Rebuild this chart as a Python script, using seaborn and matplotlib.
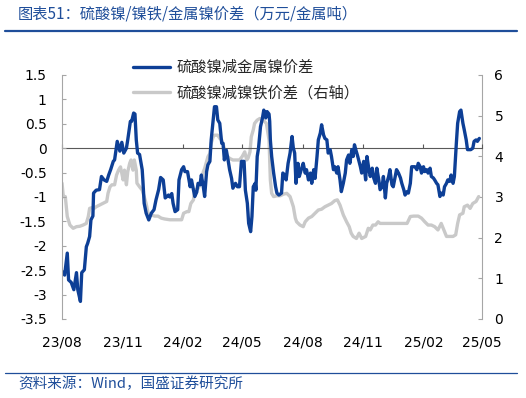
import matplotlib
matplotlib.use('Agg')
import pandas as pd
import matplotlib.pyplot as plt
import matplotlib.dates as mdates
from matplotlib.lines import Line2D
import seaborn as sns

# 硫酸镍减金属镍价差 (left axis)
blue_dates = """
2023-08-01 2023-08-05 2023-08-09 2023-08-11 2023-08-15 2023-08-19 2023-08-23 2023-08-25
2023-08-29 2023-08-31 2023-09-04 2023-09-07 2023-09-09 2023-09-12 2023-09-14 2023-09-17
2023-09-18 2023-09-22 2023-09-27 2023-09-30 2023-10-04 2023-10-08 2023-10-11 2023-10-14
2023-10-18 2023-10-20 2023-10-24 2023-10-28 2023-10-31 2023-11-03 2023-11-07 2023-11-09
2023-11-13 2023-11-15 2023-11-18 2023-11-20 2023-11-22 2023-11-24 2023-11-27 2023-12-01
2023-12-02 2023-12-04 2023-12-07 2023-12-11 2023-12-15 2023-12-19 2023-12-22 2023-12-26
2023-12-29 2024-01-02 2024-01-05 2024-01-10 2024-01-12 2024-01-15 2024-01-17 2024-01-20
2024-01-24 2024-01-26 2024-01-30 2024-02-02 2024-02-04 2024-02-08 2024-02-12 2024-02-14
2024-02-17 2024-02-19 2024-02-22 2024-02-24 2024-02-27 2024-02-29 2024-03-03 2024-03-05
2024-03-08 2024-03-10 2024-03-13 2024-03-15 2024-03-18 2024-03-20 2024-03-23 2024-03-25
2024-03-28 2024-03-31 2024-04-02 2024-04-04 2024-04-07 2024-04-10 2024-04-12 2024-04-15
2024-04-17 2024-04-21 2024-04-24 2024-04-27 2024-04-30 2024-05-04 2024-05-06 2024-05-09
2024-05-11 2024-05-14 2024-05-16 2024-05-18 2024-05-21 2024-05-22 2024-05-24 2024-05-26
2024-05-29 2024-06-01 2024-06-03 2024-06-06 2024-06-08 2024-06-11 2024-06-12 2024-06-13
2024-06-15 2024-06-18 2024-06-21 2024-06-23 2024-06-26 2024-06-30 2024-07-02 2024-07-05
2024-07-07 2024-07-10 2024-07-13 2024-07-16 2024-07-18 2024-07-20 2024-07-22 2024-07-25
2024-07-27 2024-07-30 2024-08-02 2024-08-05 2024-08-07 2024-08-10 2024-08-13 2024-08-15
2024-08-18 2024-08-20 2024-08-23 2024-08-25 2024-08-28 2024-08-30 2024-09-02 2024-09-04
2024-09-07 2024-09-09 2024-09-12 2024-09-14 2024-09-17 2024-09-19 2024-09-22 2024-09-24
2024-09-27 2024-09-29 2024-10-02 2024-10-05 2024-10-07 2024-10-10 2024-10-12 2024-10-15
2024-10-17 2024-10-19 2024-10-21 2024-10-24 2024-10-28 2024-10-30 2024-11-02 2024-11-05
2024-11-07 2024-11-10 2024-11-12 2024-11-15 2024-11-17 2024-11-20 2024-11-22 2024-11-25
2024-11-27 2024-11-30 2024-12-02 2024-12-05 2024-12-07 2024-12-10 2024-12-12 2024-12-15
2024-12-17 2024-12-20 2024-12-22 2024-12-25 2024-12-28 2024-12-30 2025-01-02 2025-01-04
2025-01-07 2025-01-09 2025-01-12 2025-01-14 2025-01-17 2025-01-19 2025-01-22 2025-01-24
2025-01-27 2025-01-29 2025-02-01 2025-02-03 2025-02-06 2025-02-08 2025-02-11 2025-02-13
2025-02-16 2025-02-18 2025-02-21 2025-02-23 2025-02-26 2025-02-28 2025-03-03 2025-03-05
2025-03-08 2025-03-10 2025-03-13 2025-03-15 2025-03-18 2025-03-20 2025-03-23 2025-03-25
2025-03-28 2025-03-30 2025-04-02 2025-04-04 2025-04-07 2025-04-09 2025-04-12 2025-04-14
2025-04-17 2025-04-19 2025-04-22 2025-04-24 2025-04-27
""".split()
blue_vals = [
    -2.53, -2.60, -2.15, -2.70, -2.75, -2.90, -2.55, -2.90,
    -3.14, -2.55, -2.49, -2.02, -1.95, -1.81, -1.47, -1.39,
    -0.92, -0.86, -0.85, -0.58, -0.65, -0.68, -0.55, -0.44,
    -0.27, -0.24, 0.14, -0.06, 0.12, -0.10, 0.00, 0.17,
    0.55, 0.55, 0.72, 0.70, 0.17, -0.10, -0.13, -0.44,
    -0.65, -1.13, -1.33, -1.47, -1.33, -1.26, -1.06, -0.85,
    -0.60, -0.65, -1.02, -0.96, -1.00, -0.93, -1.13, -1.30,
    -1.26, -0.65, -0.44, -0.38, -0.48, -0.48, -0.79, -0.65,
    -0.85, -0.99, -0.90, -0.72, -0.75, -0.55, -0.79, -0.99,
    -0.48, -0.34, -0.27, 0.17, 0.58, 0.85, 0.85, 0.58,
    0.51, 0.10, 0.10, -0.24, -0.04, -0.27, -0.44, -0.62,
    -0.82, -0.72, -0.79, -0.79, -0.27, -0.27, -0.86, -1.13,
    -1.54, -1.71, -1.40, -0.79, -0.72, -0.86, -0.17, 0.00,
    0.44, 0.62, 0.78, 0.62, 0.75, 0.70, 0.55, 0.17,
    -0.17, -0.51, -0.79, -0.92, -0.96, -0.92, -0.51, -0.55,
    -0.65, -0.31, -0.10, 0.24, 0.00, -0.10, -0.72, -0.31,
    -0.58, -0.44, -0.31, -0.51, -0.44, -0.65, -0.51, -0.72,
    -0.44, -0.62, -0.17, 0.17, 0.31, 0.48, 0.27, 0.20,
    0.17, -0.10, -0.03, -0.17, -0.44, -0.38, -0.51, -0.38,
    -0.65, -0.89, -0.72, -0.51, -0.24, -0.14, -0.31, -0.03,
    -0.17, 0.07, -0.03, -0.17, -0.38, -0.51, -0.27, -0.65,
    -0.17, -0.44, -0.58, -0.41, -0.60, -0.72, -0.41, -0.65,
    -0.85, -0.79, -0.58, -1.02, -0.72, -0.58, -0.44, -0.75,
    -0.79, -0.58, -0.44, -0.51, -0.61, -0.72, -0.85, -0.96,
    -0.89, -0.92, -0.72, -0.38, -0.38, -0.38, -0.44, -0.31,
    -0.38, -0.51, -0.38, -0.48, -0.44, -0.51, -0.41, -0.58,
    -0.61, -0.65, -0.72, -0.75, -0.99, -0.92, -0.96, -0.79,
    -0.72, -0.65, -0.68, -0.55, -0.72, -0.58, 0.10, 0.51,
    0.75, 0.78, 0.51, 0.38, 0.17, -0.03, -0.03, -0.03,
    0.00, 0.14, 0.17, 0.14, 0.20,
]

# 硫酸镍减镍铁价差 (right axis)
grey_dates = """
2023-08-01 2023-08-03 2023-08-06 2023-08-09 2023-08-13 2023-08-18 2023-08-23 2023-08-28
2023-09-02 2023-09-07 2023-09-10 2023-09-12 2023-09-16 2023-09-19 2023-09-22 2023-09-27
2023-10-02 2023-10-08 2023-10-10 2023-10-13 2023-10-16 2023-10-20 2023-10-23 2023-10-26
2023-10-29 2023-11-02 2023-11-04 2023-11-07 2023-11-09 2023-11-12 2023-11-14 2023-11-17
2023-11-19 2023-11-22 2023-11-23 2023-11-27 2023-12-01 2023-12-04 2023-12-07 2023-12-10
2023-12-15 2023-12-20 2023-12-25 2023-12-30 2024-01-04 2024-01-12 2024-01-20 2024-01-30
2024-02-02 2024-02-07 2024-02-10 2024-02-13 2024-02-17 2024-02-19 2024-02-24 2024-02-27
2024-02-29 2024-03-03 2024-03-05 2024-03-08 2024-03-10 2024-03-13 2024-03-15 2024-03-18
2024-03-20 2024-03-25 2024-03-28 2024-03-31 2024-04-04 2024-04-07 2024-04-12 2024-04-17
2024-04-22 2024-04-27 2024-05-01 2024-05-05 2024-05-08 2024-05-10 2024-05-13 2024-05-15
2024-05-18 2024-05-20 2024-05-24 2024-05-28 2024-06-02 2024-06-07 2024-06-11 2024-06-12
2024-06-13 2024-06-15 2024-06-18 2024-06-23 2024-06-28 2024-07-03 2024-07-08 2024-07-13
2024-07-18 2024-07-21 2024-07-23 2024-07-28 2024-08-02 2024-08-05 2024-08-10 2024-08-15
2024-08-20 2024-08-25 2024-08-30 2024-09-04 2024-09-09 2024-09-14 2024-09-19 2024-09-23
2024-09-27 2024-10-02 2024-10-07 2024-10-11 2024-10-14 2024-10-17 2024-10-22 2024-10-26
2024-10-30 2024-11-05 2024-11-09 2024-11-12 2024-11-16 2024-11-20 2024-11-24 2024-11-27
2024-12-07 2024-12-17 2024-12-28 2025-01-07 2025-01-12 2025-01-17 2025-01-24 2025-01-29
2025-02-03 2025-02-08 2025-02-13 2025-02-18 2025-02-23 2025-02-28 2025-03-04 2025-03-08
2025-03-13 2025-03-18 2025-03-22 2025-03-25 2025-03-28 2025-04-02 2025-04-04 2025-04-09
2025-04-13 2025-04-17 2025-04-22 2025-04-26
""".split()
grey_vals = [
    3.34, 3.01, 3.01, 2.52, 2.31, 2.23, 2.27, 2.28,
    2.31, 2.35, 2.52, 2.72, 2.74, 2.72, 2.76, 2.80,
    2.84, 2.89, 3.09, 3.25, 3.30, 3.30, 3.54, 3.66,
    3.74, 3.42, 3.66, 3.30, 3.62, 3.83, 3.91, 3.66,
    3.91, 3.66, 3.34, 3.25, 3.17, 3.01, 2.84, 2.60,
    2.56, 2.53, 2.53, 2.48, 2.46, 2.44, 2.44, 2.44,
    2.60, 2.64, 2.64, 2.84, 2.93, 3.17, 3.21, 3.30,
    3.46, 3.62, 3.70, 3.87, 3.99, 4.07, 4.32, 4.48,
    4.52, 4.52, 4.44, 4.40, 4.20, 4.03, 3.95, 3.91,
    3.91, 3.91, 3.99, 4.11, 3.91, 3.95, 4.11, 4.48,
    4.65, 4.81, 4.89, 4.93, 4.89, 4.81, 4.40, 3.90,
    3.42, 3.09, 3.01, 3.03, 3.03, 3.07, 3.09, 3.01,
    2.76, 2.48, 2.39, 2.31, 2.27, 2.39, 2.48, 2.52,
    2.60, 2.68, 2.70, 2.76, 2.80, 2.84, 2.91, 2.93,
    2.80, 2.56, 2.39, 2.27, 2.11, 2.03, 1.98, 2.11,
    1.98, 2.03, 2.23, 2.19, 2.31, 2.31, 2.39, 2.35,
    2.35, 2.35, 2.35, 2.35, 2.52, 2.53, 2.53, 2.48,
    2.39, 2.31, 2.31, 2.27, 2.19, 2.35, 2.19, 2.03,
    2.03, 2.03, 2.07, 2.35, 2.56, 2.60, 2.76, 2.80,
    2.72, 2.84, 2.89, 3.01,
]

x_ticks = ['2023-08-01', '2023-11-01', '2024-02-01', '2024-05-01',
           '2024-08-01', '2024-11-01', '2025-02-01', '2025-05-01']
x_labels = ['23/08', '23/11', '24/02', '24/05', '24/08', '24/11', '25/02', '25/05']
left_ticks = [1.5, 1, 0.5, 0, -0.5, -1, -1.5, -2, -2.5, -3, -3.5]
left_labels = ['1.5', '1', '0.5', '0', '-0.5', '-1', '-1.5', '-2', '-2.5', '-3', '-3.5']
right_ticks = [0, 1, 2, 3, 4, 5, 6]

labels = ['硫酸镍减金属镍价差', '硫酸镍减镍铁价差（右轴）']
title = '图表51：硫酸镍/镍铁/金属镍价差（万元/金属吨）'
source = '资料来源：Wind，国盛证券研究所'

BLUE = '#0D3F96'
GREY = '#C9C9C9'
HEAD = '#1F4E9A'
SPINE = '#A6A6A6'

sns.set_style('white')
plt.rcParams['font.family'] = ['DejaVu Sans', 'Noto Sans CJK SC']
cjk = ['Noto Sans CJK SC', 'DejaVu Sans']

fig = plt.figure(figsize=(5.26, 3.98), dpi=100)
ax = fig.add_axes([0.1179, 0.1985, 0.7984, 0.6131])
ax2 = ax.twinx()
ax.set_zorder(ax2.get_zorder() + 1)
ax.patch.set_visible(False)

grey_df = pd.DataFrame({'date': pd.to_datetime(grey_dates), 'val': grey_vals})
blue_df = pd.DataFrame({'date': pd.to_datetime(blue_dates), 'val': blue_vals})
sns.lineplot(data=grey_df, x='date', y='val', ax=ax2, color=GREY, linewidth=2.4)
sns.lineplot(data=blue_df, x='date', y='val', ax=ax, color=BLUE, linewidth=2.4)

tick_dates = pd.to_datetime(x_ticks)
ax.set_xlim(tick_dates[0], tick_dates[-1])
ax.set_ylim(-3.5, 1.5)
ax2.set_ylim(0, 6)
ax.set_xlabel('')
ax.set_ylabel('')
ax2.set_ylabel('')

ax.set_xticks(tick_dates)
ax.set_xticklabels(x_labels)
ax.set_yticks(left_ticks)
ax.set_yticklabels(left_labels)
ax2.set_yticks(right_ticks)

for s in ['top', 'bottom', 'right']:
    ax.spines[s].set_visible(False)
for s in ['top', 'bottom', 'left']:
    ax2.spines[s].set_visible(False)
ax.spines['left'].set_color(SPINE)
ax2.spines['right'].set_color(SPINE)

ax.tick_params(axis='x', length=0, pad=12, labelsize=10, colors='black')
ax.tick_params(axis='y', direction='in', length=3, pad=11, labelsize=10,
               color=SPINE, labelcolor='black', left=True)
ax2.tick_params(axis='y', direction='in', length=3, pad=9, labelsize=10,
                color=SPINE, labelcolor='black', right=True)
ax2.tick_params(axis='x', length=0)

# zero line with its own small ticks
zero_ax = ax.secondary_xaxis(0.7)
zero_ax.set_xticks(mdates.date2num(tick_dates))
zero_ax.tick_params(direction='out', length=3, color='#595959',
                    labeltop=False, labelbottom=False)
for s in ['top', 'bottom']:
    zero_ax.spines[s].set_color('#595959')
    zero_ax.spines[s].set_linewidth(0.8)

handles = [Line2D([], [], color=BLUE, linewidth=2.4),
           Line2D([], [], color=GREY, linewidth=2.4)]
fig.legend(handles, labels, loc='upper left', bbox_to_anchor=(0.253, 0.852),
           frameon=False, handlelength=2.4, handletextpad=0.45,
           labelspacing=0.55, borderpad=0, borderaxespad=0,
           prop={'family': cjk, 'size': 11})

fig.text(18 / 526, 1 - 14 / 398, title, color=HEAD, fontsize=11, style='italic',
         ha='left', va='center', family=cjk)
fig.add_artist(Line2D([5 / 526, 517 / 526], [1 - 31 / 398] * 2,
                      transform=fig.transFigure, color=HEAD, linewidth=1.6))
fig.add_artist(Line2D([5 / 526, 517 / 526], [1 - 372.5 / 398] * 2,
                      transform=fig.transFigure, color=HEAD, linewidth=0.9))
fig.text(18 / 526, 1 - 384 / 398, source, color=HEAD, fontsize=10.5, style='italic',
         ha='left', va='center', family=cjk)

fig.savefig('out.png', dpi=100)
